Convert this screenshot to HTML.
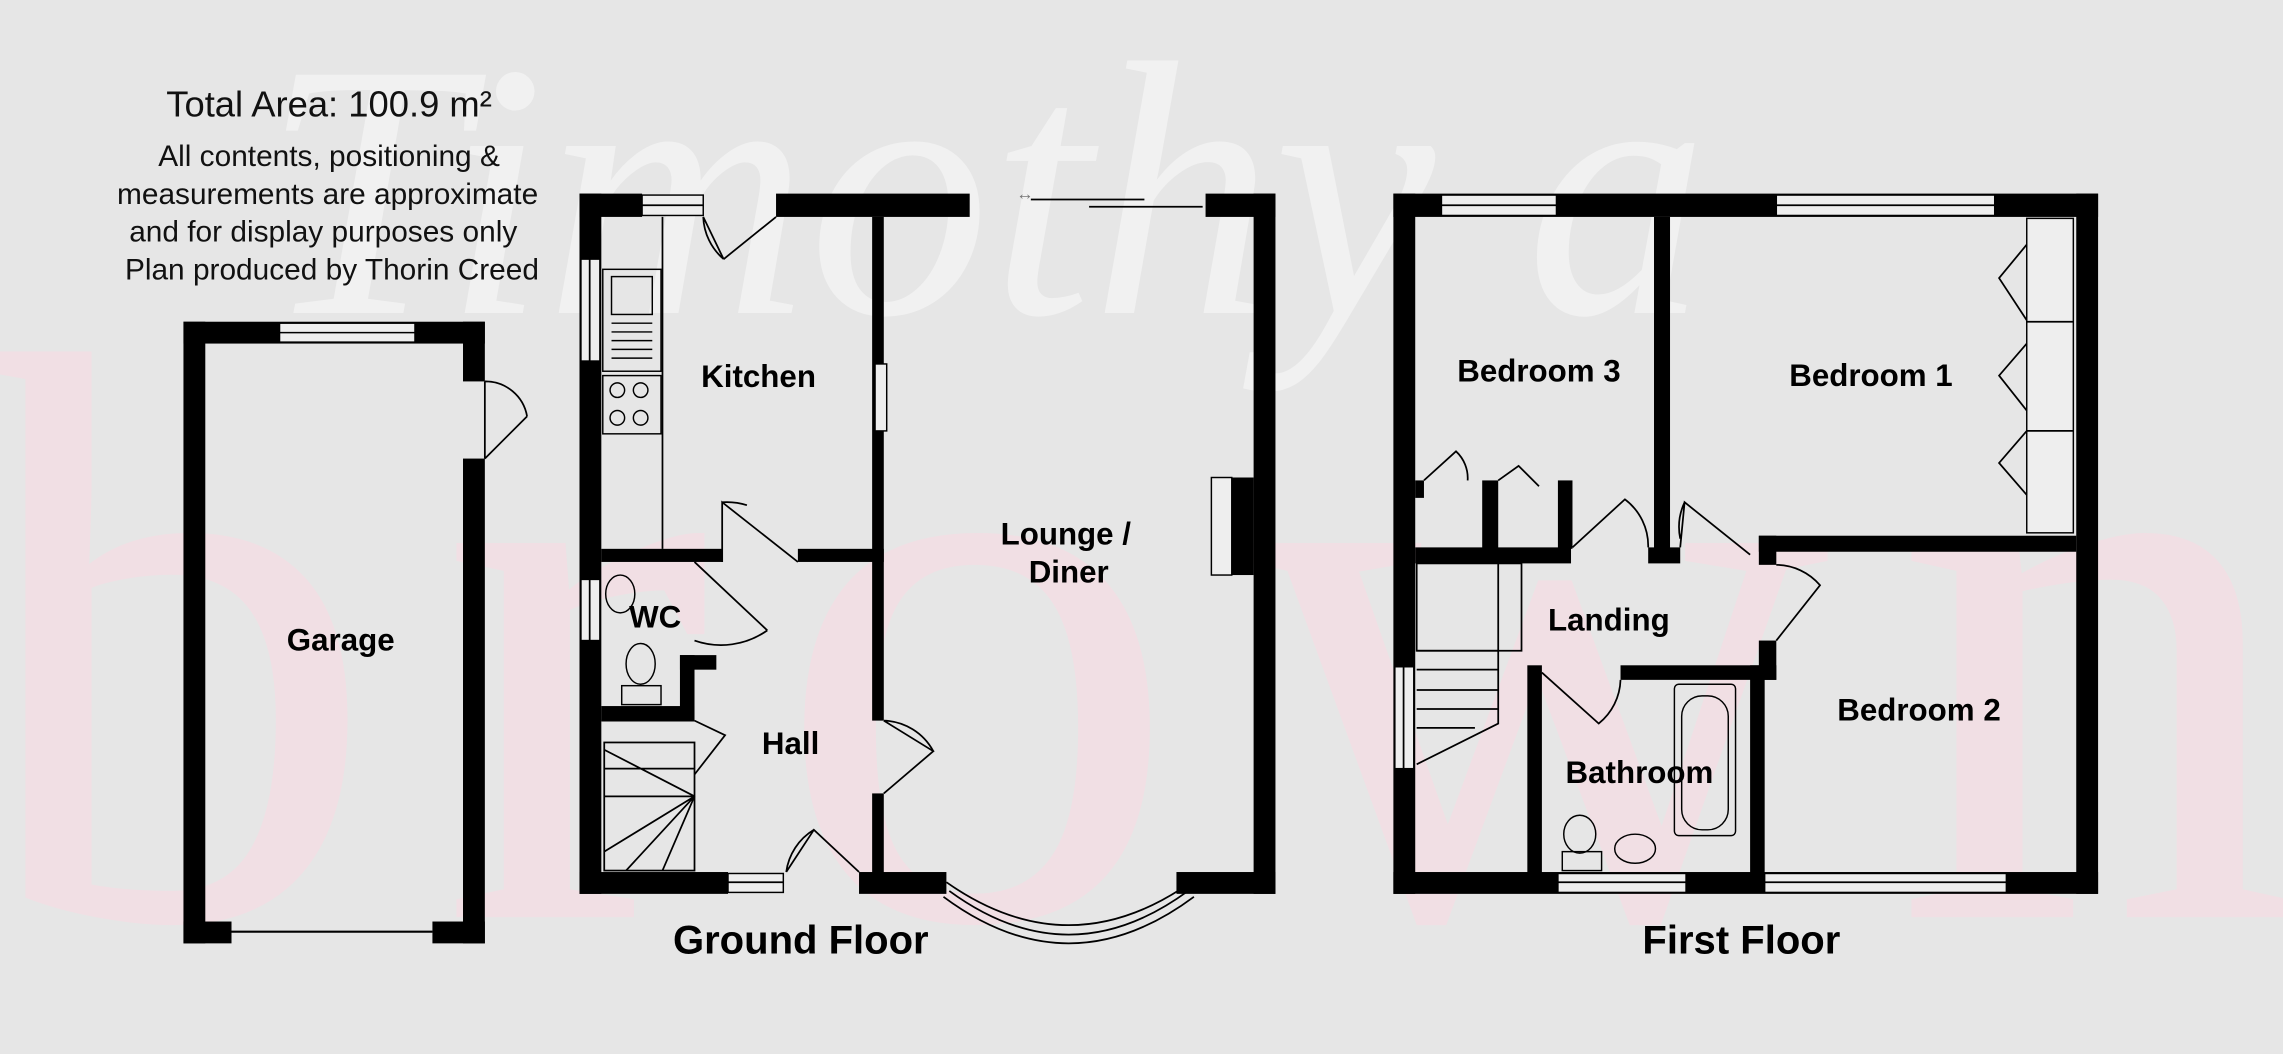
<!DOCTYPE html>
<html><head><meta charset="utf-8"><style>
html,body{margin:0;padding:0;background:#e6e6e6;overflow:hidden}
svg{display:block}
text{font-family:"Liberation Sans",Arial,sans-serif}
</style></head><body>
<svg width="2283" height="1054" viewBox="0 0 1568 724" preserveAspectRatio="none" xmlns="http://www.w3.org/2000/svg">
<rect width="1568" height="724" fill="#e6e6e6"/>
<!-- watermark -->
<text x="180" y="215" font-style="italic" font-size="250" fill="#f1f1f1" style="font-family:'Liberation Serif',serif">Timothy a</text>
<text x="-20" y="630" font-size="560" fill="#f1dfe4" style="font-family:'Liberation Serif',serif" textLength="1600">brown</text>

<!-- header text -->
<text x="226" y="80" font-size="25" text-anchor="middle" fill="#111">Total Area: 100.9 m²</text>
<g font-size="20.5" text-anchor="middle" fill="#111">
<text x="226" y="114">All contents, positioning &amp;</text>
<text x="225" y="140">measurements are approximate</text>
<text x="222" y="166">and for display purposes only</text>
<text x="228" y="192">Plan produced by Thorin Creed</text>
</g>

<g fill="#000">
<!-- Garage -->
<rect x="126" y="221" width="207" height="15"/>
<rect x="126" y="221" width="15" height="427"/>
<rect x="318" y="221" width="15" height="41"/>
<rect x="318" y="315" width="15" height="333"/>
<rect x="126" y="633" width="33" height="15"/>
<rect x="297" y="633" width="36" height="15"/>
</g>
<g fill="#eee" stroke="#000" stroke-width="1">
<rect x="192" y="222" width="93" height="13"/>
</g>
<line x1="192" y1="228.5" x2="285" y2="228.5" stroke="#000"/>
<line x1="159" y1="640" x2="297" y2="640" stroke="#000" stroke-width="1.5"/>
<path d="M333 262 L333 315 M333 315 L362 286 M333 262 A29 29 0 0 1 362 286" fill="none" stroke="#000" stroke-width="1.2"/>

<!-- Ground floor walls -->
<g fill="#000">
<rect x="398" y="133" width="43" height="16"/>
<rect x="533" y="133" width="133" height="16"/>
<rect x="828" y="133" width="48" height="16"/>
<rect x="398" y="133" width="15" height="481"/>
<rect x="861" y="133" width="15" height="481"/>
<rect x="398" y="599" width="102" height="15"/>
<rect x="590" y="599" width="60" height="15"/>
<rect x="808" y="599" width="68" height="15"/>
<rect x="599" y="149" width="8" height="236"/>
<rect x="599" y="385" width="8" height="110"/>
<rect x="599" y="545" width="8" height="55"/>
<rect x="413" y="377" width="83" height="9"/>
<rect x="548" y="377" width="59" height="9"/>
<rect x="413" y="485" width="64" height="10"/>
<rect x="467" y="450" width="10" height="45"/>
<rect x="467" y="450" width="25" height="10"/>
<rect x="846" y="328" width="15" height="67"/>
</g>
<!-- GF windows/doors -->
<g fill="#eee" stroke="#000" stroke-width="1">
<rect x="441" y="134" width="42" height="14"/>
<rect x="399" y="178" width="13" height="70"/>
<rect x="601" y="250" width="8" height="46"/>
<rect x="399" y="398" width="13" height="42"/>
<rect x="500" y="600" width="38" height="13"/>
<rect x="832" y="328" width="14" height="67"/>
</g>
<g fill="none" stroke="#000" stroke-width="1.2">
<line x1="441" y1="141" x2="483" y2="141"/>
<line x1="405" y1="178" x2="405" y2="248"/>
<line x1="405" y1="398" x2="405" y2="440"/>
<line x1="500" y1="606" x2="538" y2="606"/>
<line x1="455" y1="149" x2="455" y2="377"/>
<path d="M483 149 L497 178 M533 149 L497 178 M483 149 A40 40 0 0 0 497 178"/>
<line x1="708" y1="137" x2="786" y2="137"/>
<line x1="748" y1="142" x2="826" y2="142"/>
<text x="698" y="137" font-size="12" stroke="none" fill="#777">↔</text>
<path d="M496 386 L496 345 L548 386 M496 345 A45 45 0 0 1 513 347"/>
<path d="M477 386 L527 433 M477 440 A55 55 0 0 0 527 433"/>
<path d="M477 495 L498 505 L477 532 M413 495 L477 495"/>
<path d="M607 495 L641 516 L607 545 M607 495 A40 40 0 0 1 641 516"/>
<path d="M540 599 L559 570 L590 599 M540 599 A40 40 0 0 1 559 570"/>
<path d="M650 606 Q734 665 818 606 M652 612 Q734 672 816 612 M648 616 Q734 680 820 616"/>
<rect x="415" y="510" width="62" height="88"/>
<path d="M415 515 L477 547 M415 528 L477 528 M415 547 L477 547 M477 547 L415 585 M477 547 L430 598 M477 547 L455 598"/>
</g>
<!-- sink and hob -->
<g fill="none" stroke="#000" stroke-width="1">
<rect x="414" y="185" width="40" height="70"/>
<rect x="420" y="190" width="28" height="26"/>
<path d="M420 222 h28 M420 228 h28 M420 234 h28 M420 240 h28 M420 246 h28"/>
<rect x="414" y="258" width="40" height="40"/>
<circle cx="424" cy="268" r="5"/><circle cx="440" cy="268" r="5"/><circle cx="424" cy="287" r="5"/><circle cx="440" cy="287" r="5"/>
<ellipse cx="426" cy="408" rx="10" ry="13"/>
<ellipse cx="440" cy="456" rx="10" ry="14"/>
<rect x="427" y="471" width="27" height="13"/>
<rect x="1150" y="470" width="42" height="104" rx="3"/>
<rect x="1155" y="478" width="32" height="92" rx="14"/>
<ellipse cx="1085" cy="573" rx="11" ry="13"/>
<rect x="1073" y="585" width="27" height="13"/>
<ellipse cx="1123" cy="583" rx="14" ry="10"/>
</g>

<!-- First floor walls -->
<g fill="#000">
<rect x="957" y="133" width="484" height="16"/>
<rect x="957" y="133" width="15" height="481"/>
<rect x="1426" y="133" width="15" height="481"/>
<rect x="957" y="599" width="484" height="15"/>
<rect x="1136" y="149" width="11" height="236"/>
<rect x="1132" y="376" width="22" height="11"/>
<rect x="972" y="376" width="107" height="11"/>
<rect x="1018" y="330" width="11" height="47"/>
<rect x="1070" y="330" width="10" height="47"/>
<rect x="1208" y="368" width="218" height="11"/>
<rect x="1208" y="368" width="12" height="20"/>
<rect x="1208" y="440" width="12" height="27"/>
<rect x="1202" y="457" width="10" height="143"/>
<rect x="1113" y="457" width="107" height="10"/>
<rect x="1049" y="457" width="10" height="143"/>
<rect x="972" y="330" width="6" height="12"/>
</g>
<g fill="#eee" stroke="#000" stroke-width="1">
<rect x="990" y="134" width="79" height="14"/>
<rect x="1220" y="134" width="150" height="14"/>
<rect x="958" y="458" width="13" height="70"/>
<rect x="1070" y="600" width="88" height="13"/>
<rect x="1212" y="600" width="166" height="13"/>
<rect x="1392" y="150" width="32" height="216"/>
</g>
<g fill="none" stroke="#000" stroke-width="1.2">
<line x1="990" y1="141" x2="1069" y2="141"/>
<line x1="1220" y1="141" x2="1370" y2="141"/>
<line x1="964" y1="458" x2="964" y2="528"/>
<line x1="1070" y1="606" x2="1158" y2="606"/>
<line x1="1212" y1="606" x2="1378" y2="606"/>
<path d="M1392 221 h32 M1392 296 h32"/>
<path d="M1392 168 L1373 191 L1392 220 M1392 236 L1373 258 L1392 282 M1392 296 L1373 318 L1392 340"/>
<path d="M978 330 L1000 310 A25 25 0 0 1 1008 330 M1029 330 L1043 320 L1057 334"/>
<path d="M1080 376 L1116 343 A40 40 0 0 1 1132 376 M1154 376 L1157 345 L1202 381 M1157 345 A40 40 0 0 0 1154 370"/>
<path d="M1220 388 A40 40 0 0 1 1250 402 L1220 440"/>
<path d="M1059 462 L1098 497 A40 40 0 0 0 1113 467"/>
<rect x="973" y="387" width="72" height="60"/>
<path d="M1029 387 V497 L973 525 M973 447 h56 M973 460 h56 M973 474 h56 M973 487 h56 M973 500 h40"/>
</g>

<!-- labels -->
<g font-weight="bold" font-size="21.5" text-anchor="middle" fill="#000">
<text x="521" y="266">Kitchen</text>
<text x="732" y="374">Lounge /</text>
<text x="734" y="400">Diner</text>
<text x="450" y="431">WC</text>
<text x="543" y="518">Hall</text>
<text x="234" y="447">Garage</text>
<text x="1057" y="262">Bedroom 3</text>
<text x="1285" y="265">Bedroom 1</text>
<text x="1105" y="433">Landing</text>
<text x="1318" y="495">Bedroom 2</text>
<text x="1126" y="538">Bathroom</text>
<text x="550" y="655" font-size="27.5">Ground Floor</text>
<text x="1196" y="655" font-size="27.5">First Floor</text>
</g>
</svg>
</body></html>
